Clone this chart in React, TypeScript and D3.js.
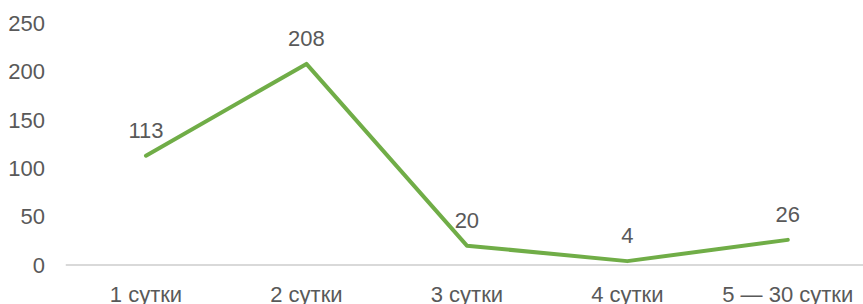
import React, { useEffect, useRef } from "react";
import * as d3 from "d3";

const categories = ["1 сутки", "2 сутки", "3 сутки", "4 сутки", "5 — 30 сутки"];
const values = [113, 208, 20, 4, 26];
const yTicks = [0, 50, 100, 150, 200, 250];

const App = () => {
  const visualRef = useRef<SVGSVGElement>(null);

  useEffect(() => {
    const width = 863;
    const height = 304;
    const font = "'Liberation Sans', Arial, sans-serif";
    const textColor = "#595959";

    const svg = d3.select(visualRef.current).attr("width", width).attr("height", height);
    svg.selectAll("*").remove();

    const scaleX = d3.scaleBand<string>().domain(categories).range([65.75, 868]).padding(0);
    const cx = (c: string) => (scaleX(c) as number) + scaleX.bandwidth() / 2;

    const scaleY = d3.scaleLinear().domain([0, 250]).range([265, 23.3]);

    // y tick labels
    svg
      .append("g")
      .selectAll("text")
      .data(yTicks)
      .join("text")
      .attr("x", 45)
      .attr("y", (d) => scaleY(d))
      .attr("dy", "0.35em")
      .attr("text-anchor", "end")
      .attr("font-family", font)
      .attr("font-size", 22)
      .attr("fill", textColor)
      .text((d) => d);

    // zero axis line
    svg
      .append("line")
      .attr("x1", 65.75)
      .attr("x2", 868)
      .attr("y1", scaleY(0))
      .attr("y2", scaleY(0))
      .attr("stroke", "#d9d9d9")
      .attr("stroke-width", 2);

    // category labels
    svg
      .append("g")
      .selectAll("text")
      .data(categories)
      .join("text")
      .attr("x", (d) => cx(d))
      .attr("y", 301.5)
      .attr("text-anchor", "middle")
      .attr("font-family", font)
      .attr("font-size", 22)
      .attr("fill", textColor)
      .text((d) => d);

    const line = d3
      .line<number>()
      .x((_, i) => cx(categories[i]))
      .y((d) => scaleY(d));

    svg
      .append("path")
      .datum(values)
      .attr("d", line)
      .attr("fill", "none")
      .attr("stroke", "#70ad47")
      .attr("stroke-width", 4)
      .attr("stroke-linejoin", "round")
      .attr("stroke-linecap", "round");

    // data labels
    svg
      .append("g")
      .selectAll("text")
      .data(values)
      .join("text")
      .attr("x", (_, i) => cx(categories[i]))
      .attr("y", (d) => scaleY(d) - 18)
      .attr("text-anchor", "middle")
      .attr("font-family", font)
      .attr("font-size", 22)
      .attr("fill", textColor)
      .text((d) => d);
  }, []);

  return (
    <div style={{ position: "absolute", left: 0, top: 0 }}>
      <svg ref={visualRef} style={{ display: "block" }} />
    </div>
  );
};

export default App;
